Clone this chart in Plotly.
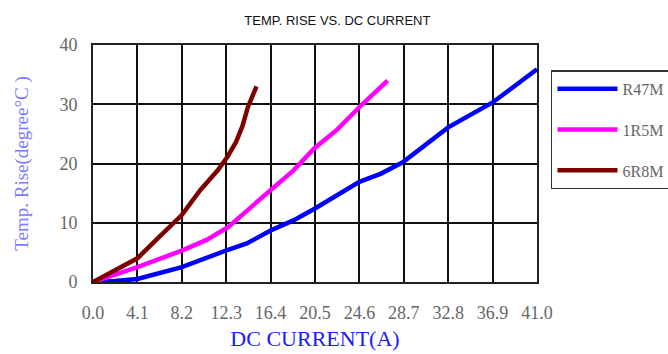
import plotly.graph_objects as go

# Temperature rise vs. DC current for three inductor values
x_tick_vals = [0.0, 4.1, 8.2, 12.3, 16.4, 20.5, 24.6, 28.7, 32.8, 36.9, 41.0]
x_tick_text = ["0.0", "4.1", "8.2", "12.3", "16.4", "20.5", "24.6", "28.7", "32.8", "36.9", "41.0"]
y_tick_vals = [0, 10, 20, 30, 40]

r47m_current = [0.0, 2.0, 4.1, 8.2, 12.4, 14.2, 16.4, 18.5, 20.5, 24.6, 26.6, 28.6, 32.8, 36.9, 41.0]
r47m_rise = [0.0, 0.15, 0.5, 2.5, 5.4, 6.5, 8.7, 10.4, 12.4, 16.9, 18.3, 20.2, 26.1, 30.3, 35.9]

r5m_current = [0.0, 2.0, 4.1, 8.2, 10.5, 12.5, 14.2, 16.4, 18.5, 20.4, 22.6, 24.7, 27.2]
r5m_rise = [0.0, 1.2, 2.5, 5.3, 7.1, 9.3, 12.1, 15.5, 18.8, 22.5, 25.8, 29.7, 34.0]

r8m_current = [0.0, 2.0, 4.1, 6.0, 7.5, 8.2, 9.9, 11.5, 12.4, 13.2, 13.8, 14.3, 15.1]
r8m_rise = [0.0, 2.0, 4.0, 7.4, 10.0, 11.3, 15.5, 18.8, 21.1, 23.6, 26.3, 29.5, 33.0]

series_names = ["R47M", "1R5M", "6R8M"]
series_colors = ["#0000ff", "#ff00ff", "#800000"]

serif = "Liberation Serif, Times New Roman, serif"
sans = "Liberation Sans, Arial, sans-serif"

fig = go.Figure()
for name, xs, ys, color in zip(
    series_names,
    [r47m_current, r5m_current, r8m_current],
    [r47m_rise, r5m_rise, r8m_rise],
    series_colors,
):
    fig.add_trace(go.Scatter(
        x=xs, y=ys, mode="lines", name=name, legendgroup=name,
        line=dict(color=color, width=4.5),
    ))

fig.update_layout(
    width=668, height=354,
    margin=dict(l=92.5, r=131, t=44.5, b=71.5, autoexpand=False),
    paper_bgcolor="white", plot_bgcolor="white",
    title=dict(text="TEMP. RISE VS. DC CURRENT", x=0.505, xanchor="center",
               y=0.943, yanchor="middle",
               font=dict(family=sans, size=13, color="#111")),
    showlegend=True,
    legend=dict(
        x=1.0315, xanchor="left", y=0.893, yanchor="top",
        bordercolor="#333", borderwidth=1.5, bgcolor="white",
        font=dict(family=serif, size=16, color="#666"),
        tracegroupgap=17, itemwidth=60,
    ),
)

fig.update_xaxes(
    range=[0, 41], tickvals=x_tick_vals, ticktext=x_tick_text,
    showgrid=True, gridcolor="#111", gridwidth=1.5,
    showline=True, linecolor="#222", linewidth=2, mirror=True,
    ticks="outside", ticklen=13, tickcolor="rgba(0,0,0,0)",
    tickfont=dict(family=serif, size=18, color="#666"),
    zeroline=False,
    title=dict(text="DC CURRENT(A)", standoff=9,
               font=dict(family=serif, size=22, color="#1a1aff")),
)
fig.update_yaxes(
    range=[0, 40], tickvals=y_tick_vals,
    showgrid=True, gridcolor="#111", gridwidth=1.5,
    showline=True, linecolor="#222", linewidth=2, mirror=True,
    ticks="outside", ticklen=10, tickcolor="rgba(0,0,0,0)",
    tickfont=dict(family=serif, size=18, color="#666"),
    zeroline=False,
    title=dict(text="Temp. Rise(degree\u00b0C )", standoff=26,
               font=dict(family=serif, size=19, color="#7b7bff")),
)

fig.write_html("out.html")
